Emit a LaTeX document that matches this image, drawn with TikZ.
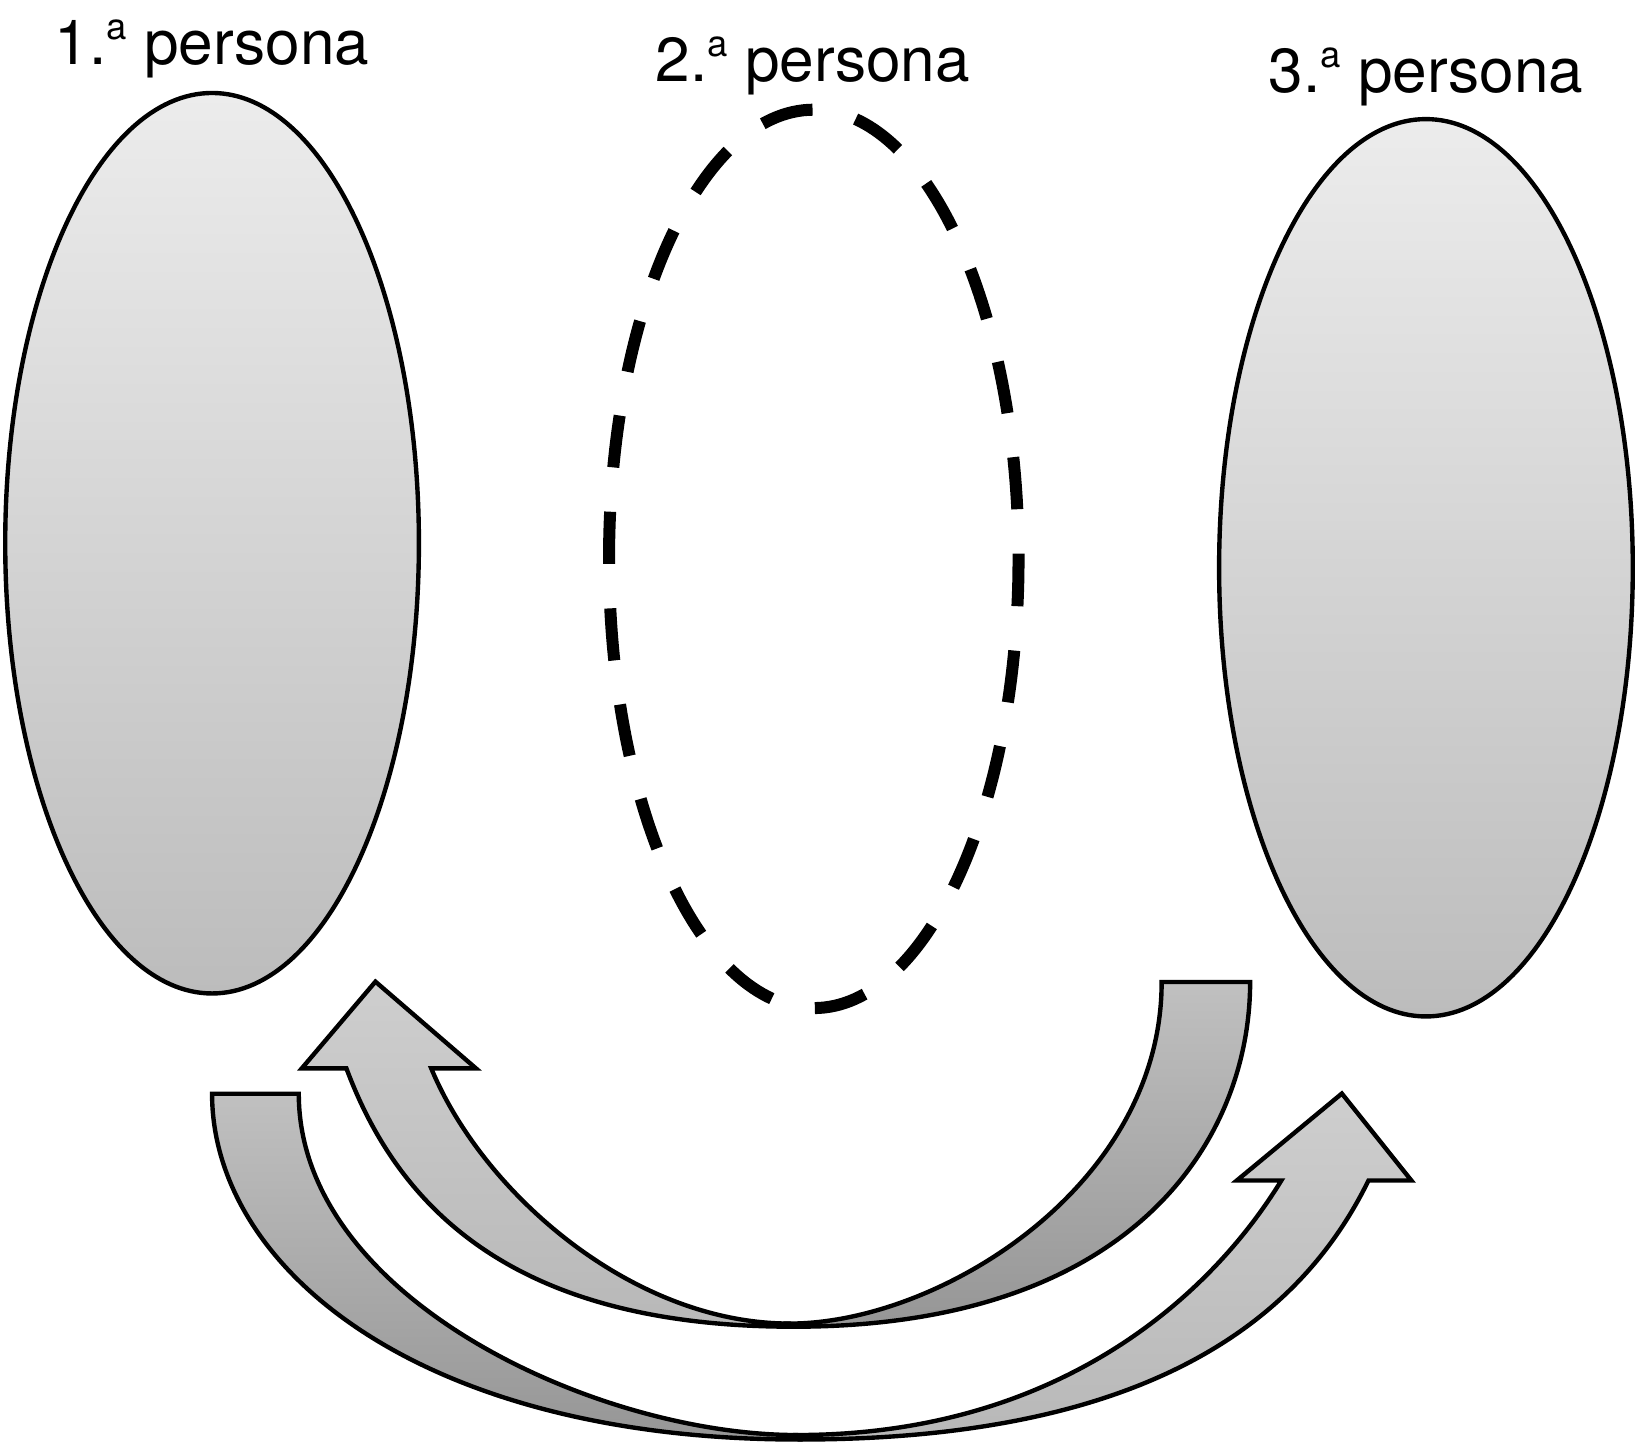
\documentclass[tikz,border=0pt]{standalone}
\usepackage{fontspec}
\setmainfont{TeX Gyre Heros}
\usetikzlibrary{shapes.geometric}
\definecolor{ellTop}{RGB}{236,236,236}
\definecolor{ellBot}{RGB}{188,188,188}
\definecolor{lightTop}{RGB}{206,206,206}
\definecolor{lightBot}{RGB}{184,184,184}
\definecolor{darkTop}{RGB}{192,192,192}
\definecolor{darkBot}{RGB}{150,150,150}
\newcommand{\ordA}{\raisebox{24pt}{\fontsize{35}{35}\selectfont a}}
\begin{document}
\begin{tikzpicture}[x=1pt,y=-1pt,
  solidell/.style={ellipse, draw=black, line width=4.2pt, top color=ellTop, bottom color=ellBot, inner sep=0pt},
  dashell/.style={ellipse, draw=black, line width=11.5pt, dash pattern=on 50pt off 42.54pt, dash phase=45pt, inner sep=0pt},
  lbl/.style={font=\fontsize{59.5}{62}\selectfont, anchor=base, inner sep=0pt},
  arrlight/.style={draw=black, line width=4.2pt, top color=lightTop, bottom color=lightBot},
  arrdark/.style={draw=black, line width=4.2pt, top color=darkTop, bottom color=darkBot}
]
\useasboundingbox (0,0) rectangle (1568,1380);
% ellipses
\node[solidell, minimum width=396pt, minimum height=862pt] (el1) at (203,520) {};
\node[dashell, minimum width=392pt, minimum height=860pt] (el2) at (779,535) {};
\node[solidell, minimum width=396pt, minimum height=859pt] (el3) at (1365,543.5) {};
% labels
\node[lbl] (lab1) at (203,62) {1.\ordA{} persona};
\node[lbl] (lab2) at (778,78) {2.\ordA{} persona};
\node[lbl] (lab3) at (1365,89) {3.\ordA{} persona};
% arrow A (to 1st person): tail part
\draw[arrdark] (1112,940) -- (1196.7,940) .. controls (1196.7,1088.5) and (1087.5,1270) .. (760,1270)
  -- (756,1267) .. controls (898.4,1267) and (1112,1136.2) .. (1112,940) -- cycle;
% arrow A: head part
\draw[arrlight] (760,1270) .. controls (500,1270) and (384.1,1163.7) .. (331.6,1022.7)
  -- (288.9,1022.7) -- (359.4,939.7) -- (455.6,1022.7) -- (412.8,1022.7)
  .. controls (462.7,1142.7) and (606,1267) .. (756,1267) -- cycle;
% arrow B (to 3rd person): tail part
\draw[arrdark] (286,1047) -- (203,1047) .. controls (203,1212.5) and (399.7,1378) .. (765,1378)
  -- (762.7,1373.7) .. controls (572,1373.7) and (286,1243) .. (286,1047) -- cycle;
% arrow B: head part
\draw[arrlight] (765,1378) .. controls (1105,1378) and (1246.5,1259.8) .. (1310,1130)
  -- (1351,1130) -- (1284.5,1046.8) -- (1184,1130) -- (1226.6,1130)
  .. controls (1158.5,1241.2) and (1012.7,1373.7) .. (762.7,1373.7) -- cycle;
\end{tikzpicture}
\end{document}
